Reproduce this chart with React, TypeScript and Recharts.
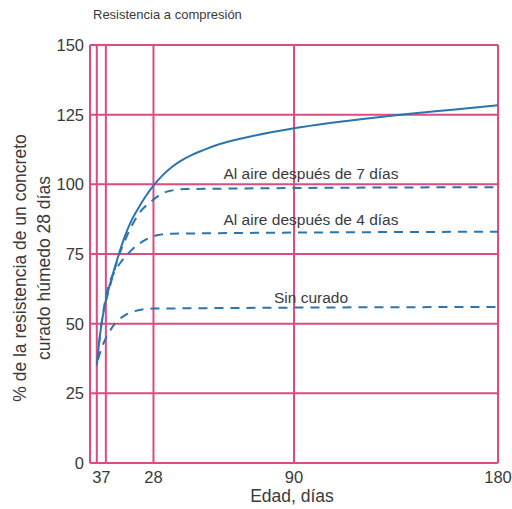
import React from "react";
import {
  LineChart,
  Line,
  XAxis,
  YAxis,
  CartesianGrid,
  ReferenceDot,
} from "recharts";

// curado húmedo continuo
const humedo = [
  { dia: 3, v: 35 },
  { dia: 4, v: 43 },
  { dia: 5, v: 49.5 },
  { dia: 6, v: 54.3 },
  { dia: 7, v: 58.3 },
  { dia: 9, v: 64.8 },
  { dia: 12, v: 73 },
  { dia: 15, v: 80.5 },
  { dia: 18, v: 86.5 },
  { dia: 21, v: 91 },
  { dia: 24, v: 95 },
  { dia: 28, v: 99.5 },
  { dia: 32, v: 103.2 },
  { dia: 36, v: 106.1 },
  { dia: 40, v: 108.4 },
  { dia: 45, v: 110.6 },
  { dia: 50, v: 112.3 },
  { dia: 56, v: 114.1 },
  { dia: 63, v: 115.7 },
  { dia: 71, v: 117.2 },
  { dia: 90, v: 120.1 },
  { dia: 115, v: 122.9 },
  { dia: 140, v: 125.2 },
  { dia: 160, v: 126.8 },
  { dia: 180, v: 128.4 },
];

// al aire después de 7 días
const aire7 = [
  { dia: 7, v: 58 },
  { dia: 10, v: 67 },
  { dia: 13, v: 75 },
  { dia: 15.5, v: 80 },
  { dia: 19, v: 86 },
  { dia: 22.5, v: 90.5 },
  { dia: 26.5, v: 93.5 },
  { dia: 31, v: 96.3 },
  { dia: 35, v: 97.6 },
  { dia: 42, v: 98.3 },
  { dia: 180, v: 99 },
];

// al aire después de 4 días
const aire4 = [
  { dia: 4, v: 43 },
  { dia: 6, v: 55 },
  { dia: 8, v: 63 },
  { dia: 11, v: 68.8 },
  { dia: 14, v: 72.5 },
  { dia: 17, v: 75.3 },
  { dia: 21, v: 78.3 },
  { dia: 25, v: 80.3 },
  { dia: 30, v: 81.8 },
  { dia: 36, v: 82.3 },
  { dia: 180, v: 83 },
];

const sinCurado = [
  { dia: 3.5, v: 37 },
  { dia: 5, v: 41 },
  { dia: 8, v: 46.3 },
  { dia: 11, v: 50 },
  { dia: 15, v: 52.8 },
  { dia: 19, v: 54.3 },
  { dia: 23, v: 55.1 },
  { dia: 28, v: 55.4 },
  { dia: 180, v: 56 },
];

const xTicks = [3, 7, 28, 90, 180];
const yTicks = [0, 25, 50, 75, 100, 125, 150];

const pink = "#dd4b80";
const blue = "#2b74b0";
const txt = "#3a3a3a";
const font = "'Liberation Sans', Arial, sans-serif";

const labelStyle = { fill: txt, fontSize: 15.5, fontFamily: font };

export default function App() {
  return (
    <div
      style={{
        position: "absolute",
        left: 0,
        top: 0,
        width: 512,
        height: 509,
        background: "#fff",
        fontFamily: font,
      }}
    >
      <div
        style={{
          position: "absolute",
          left: 93,
          top: 7,
          fontSize: 13,
          color: txt,
        }}
      >
        Resistencia a compresión
      </div>

      <LineChart
        width={512}
        height={509}
        margin={{ top: 45, right: 14, bottom: 16, left: 0 }}
      >
        <CartesianGrid stroke={pink} strokeWidth={2} />
        <XAxis
          type="number"
          dataKey="dia"
          domain={[0, 180]}
          ticks={xTicks}
          interval={0}
          height={30}
          axisLine={{ stroke: pink, strokeWidth: 2 }}
          tickLine={false}
          tick={{ fill: txt, fontSize: 16.5, fontFamily: font }}
          allowDuplicatedCategory={false}
        />
        <YAxis
          type="number"
          domain={[0, 150]}
          ticks={yTicks}
          interval={0}
          width={90}
          axisLine={{ stroke: pink, strokeWidth: 2 }}
          tickLine={false}
          tickSize={4}
          tick={{ fill: txt, fontSize: 16.5, fontFamily: font }}
        />
        <Line
          data={humedo}
          dataKey="v"
          type="monotone"
          stroke={blue}
          strokeWidth={2}
          dot={false}
          isAnimationActive={false}
        />
        <Line
          data={aire7}
          dataKey="v"
          type="monotone"
          stroke={blue}
          strokeWidth={2}
          strokeDasharray="9 7"
          dot={false}
          isAnimationActive={false}
        />
        <Line
          data={aire4}
          dataKey="v"
          type="monotone"
          stroke={blue}
          strokeWidth={2}
          strokeDasharray="9 7"
          dot={false}
          isAnimationActive={false}
        />
        <Line
          data={sinCurado}
          dataKey="v"
          type="monotone"
          stroke={blue}
          strokeWidth={2}
          strokeDasharray="9 7"
          dot={false}
          isAnimationActive={false}
        />
        <ReferenceDot
          x={97.5}
          y={104}
          r={0}
          label={{ value: "Al aire después de 7 días", position: "center", ...labelStyle }}
        />
        <ReferenceDot
          x={97.5}
          y={87.5}
          r={0}
          label={{ value: "Al aire después de 4 días", position: "center", ...labelStyle }}
        />
        <ReferenceDot
          x={97.5}
          y={59.5}
          r={0}
          label={{ value: "Sin curado", position: "center", ...labelStyle }}
        />
      </LineChart>

      <div
        style={{
          position: "absolute",
          left: 32,
          top: 268,
          transform: "translate(-50%, -50%) rotate(-90deg)",
          whiteSpace: "nowrap",
          textAlign: "center",
          fontSize: 17.5,
          lineHeight: "24px",
          color: txt,
        }}
      >
        % de la resistencia de un concreto
        <br />
        curado húmedo 28 días
      </div>

      <div
        style={{
          position: "absolute",
          left: 292,
          top: 486,
          transform: "translateX(-50%)",
          fontSize: 17.5,
          color: txt,
          whiteSpace: "nowrap",
        }}
      >
        Edad, días
      </div>
    </div>
  );
}
